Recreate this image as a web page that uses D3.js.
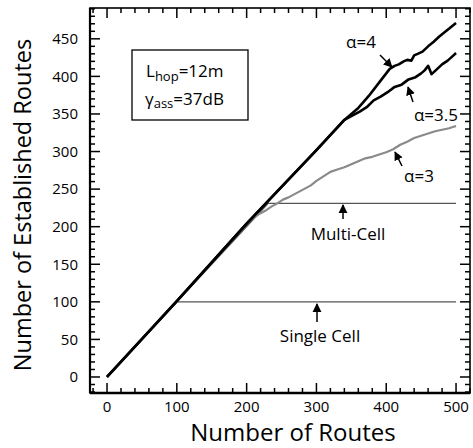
<!DOCTYPE html>
<html>
<head>
<meta charset="utf-8">
<script src="https://cdn.jsdelivr.net/npm/d3@7"></script>
<style>
  body { margin: 0; background: #fff; }
  svg { font-family: "Open Sans", "DejaVu Sans", sans-serif; }
  .lbl { font-size: 15px; fill: #000; }
</style>
</head>
<body>
<script>
// tick labels
const xTicks = [0, 100, 200, 300, 400, 500];
const yTicks = [0, 50, 100, 150, 200, 250, 300, 350, 400, 450];

// alpha = 4
const routesA4 = [0, 100, 200, 300, 340, 360, 375, 390, 400, 405, 412, 418, 425, 430, 436, 440, 445, 452, 460, 468, 476, 484, 492, 500];
const estA4    = [0, 101, 204, 302, 342, 358, 374, 392, 404, 410, 414, 416, 420, 422, 421, 428, 430, 433, 440, 446, 453, 459, 465, 471];

// alpha = 3.5
const routesA35 = [0, 100, 200, 300, 340, 350, 362, 372, 382, 392, 402, 412, 422, 432, 442, 450, 455, 460, 465, 472, 480, 488, 494, 500];
const estA35    = [0, 101, 204, 302, 342, 347, 353, 359, 368, 373, 379, 386, 389, 396, 399, 404, 408, 414, 403, 409, 416, 421, 426, 431];

// alpha = 3
const routesA3 = [0, 100, 195, 205, 212, 220, 228, 236, 244, 252, 260, 268, 276, 284, 292, 300, 310, 320, 330, 340, 350, 360, 370, 380, 390, 400, 410, 420, 430, 440, 450, 460, 470, 480, 490, 500];
const estA3    = [0, 101, 199, 208, 213, 218, 222, 227, 231, 236, 239, 243, 247, 251, 255, 261, 267, 273, 276, 279, 283, 287, 291, 293, 296, 299, 303, 309, 313, 318, 321, 324, 327, 329, 331, 334];

// capacity limits
const routesMulti = [0, 231, 500];
const estMulti    = [0, 231, 231];
const routesSingle = [0, 100, 500];
const estSingle    = [0, 100, 100];

const W = 473, H = 448;
const mLeft = 90, mRight = 470, mTop = 8, mBottom = 393;

const x = d3.scaleLinear().domain([-24.4, 520]).range([mLeft, mRight]);
const y = d3.scaleLinear().domain([-21.3, 491]).range([mBottom, mTop]);

const svg = d3.select("body").append("svg")
  .attr("width", W).attr("height", H);

svg.append("defs").append("clipPath").attr("id", "plotclip")
  .append("rect").attr("x", mLeft).attr("y", mTop)
  .attr("width", mRight - mLeft).attr("height", mBottom - mTop);

// frame
svg.append("rect")
  .attr("x", mLeft).attr("y", mTop)
  .attr("width", mRight - mLeft).attr("height", mBottom - mTop)
  .attr("fill", "none").attr("stroke", "#000").attr("stroke-width", 1.6);
svg.append("line").attr("x1", mLeft).attr("x2", mRight).attr("y1", mBottom).attr("y2", mBottom)
  .attr("stroke", "#000").attr("stroke-width", 2.6);
svg.append("line").attr("x1", mLeft).attr("x2", mLeft).attr("y1", mTop).attr("y2", mBottom)
  .attr("stroke", "#000").attr("stroke-width", 2.2);

// inward ticks on all four sides
const xAll = d3.range(-20, 521, 20);
const yAll = d3.range(-20, 491, 10);
const isMajorX = v => xTicks.indexOf(v) >= 0;
const isMajorY = v => yTicks.indexOf(v) >= 0;

const tickG = svg.append("g");
function tickSet(data, fx1, fy1, fx2, fy2) {
  tickG.append("g").selectAll("line").data(data).join("line")
    .attr("x1", fx1).attr("y1", fy1).attr("x2", fx2).attr("y2", fy2)
    .style("stroke", "#000").style("stroke-width", "1.5px");
}
tickSet(xAll, v => x(v), mBottom, v => x(v), v => mBottom - (isMajorX(v) ? 10 : 5));
tickSet(xAll, v => x(v), mTop, v => x(v), v => mTop + (isMajorX(v) ? 10 : 5));
tickSet(yAll, mLeft, v => y(v), v => mLeft + (isMajorY(v) ? 10 : 5), v => y(v));
tickSet(yAll, mRight, v => y(v), v => mRight - (isMajorY(v) ? 10 : 5), v => y(v));

// tick labels
svg.append("g").selectAll("text").data(xTicks).join("text")
  .attr("class", "lbl")
  .attr("x", d => x(d)).attr("y", mBottom + 19)
  .attr("text-anchor", "middle").text(d => d);
svg.append("g").selectAll("text").data(yTicks).join("text")
  .attr("class", "lbl")
  .attr("x", mLeft - 12).attr("y", d => y(d)).attr("dy", "0.35em")
  .attr("text-anchor", "end").text(d => d);

const line = d3.line().x(d => x(d[0])).y(d => y(d[1]));
const pairs = (a, b) => a.map((v, i) => [v, b[i]]);

const plot = svg.append("g").attr("clip-path", "url(#plotclip)");

const series = [
  { xs: routesSingle, ys: estSingle, color: "#555", width: 1.3 },
  { xs: routesMulti, ys: estMulti, color: "#555", width: 1.3 },
  { xs: routesA3, ys: estA3, color: "#8a8a8a", width: 2.2 },
  { xs: routesA35, ys: estA35, color: "#000", width: 2.6 },
  { xs: routesA4, ys: estA4, color: "#000", width: 2.6 }
];

plot.selectAll("path")
  .data(series)
  .join("path")
  .attr("d", d => line(pairs(d.xs, d.ys)))
  .attr("fill", "none")
  .attr("stroke", d => d.color)
  .attr("stroke-width", d => d.width)
  .attr("stroke-linejoin", "round");

// annotations
const annFont = 17;
function label(txt, px, py) {
  svg.append("text").attr("x", px).attr("y", py)
    .attr("text-anchor", "middle")
    .attr("font-size", annFont).text(txt);
}
svg.append("defs").append("marker")
  .attr("id", "arr").attr("viewBox", "0 0 10 10")
  .attr("refX", 9).attr("refY", 5)
  .attr("markerWidth", 6).attr("markerHeight", 7)
  .attr("orient", "auto")
  .append("path").attr("d", "M0,0 L10,5 L0,10 z").attr("fill", "#000");
function arrow(x1, y1, x2, y2) {
  svg.append("line").attr("x1", x1).attr("y1", y1).attr("x2", x2).attr("y2", y2)
    .attr("stroke", "#000").attr("stroke-width", 1.5)
    .attr("marker-end", "url(#arr)");
}

label("\u03b1=4", 361, 48);
arrow(380, 55, 392, 67);
label("\u03b1=3.5", 436, 121);
arrow(413, 102, 408, 87);
label("\u03b1=3", 419, 182);
arrow(402, 166, 395, 152);
label("Multi-Cell", 348, 240);
arrow(343, 219, 343, 205);
label("Single Cell", 320, 342);
arrow(317, 322, 317, 304);

// parameter box
svg.append("rect").attr("x", 132).attr("y", 50).attr("width", 116).attr("height", 70)
  .attr("fill", "none").attr("stroke", "#000").attr("stroke-width", 1.3);
const t1 = svg.append("text").attr("x", 146).attr("y", 77).attr("font-size", annFont);
t1.append("tspan").text("L");
t1.append("tspan").attr("font-size", 13).attr("dy", 4).text("hop");
t1.append("tspan").attr("dy", -4).text("=12m");
const t2 = svg.append("text").attr("x", 145).attr("y", 105).attr("font-size", annFont);
t2.append("tspan").text("\u03b3");
t2.append("tspan").attr("font-size", 13).attr("dy", 3).text("ass");
t2.append("tspan").attr("dy", -3).text("=37dB");

// axis titles
svg.append("text")
  .attr("x", 293).attr("y", 441)
  .attr("text-anchor", "middle")
  .attr("font-size", 24)
  .text("Number of Routes");

svg.append("text")
  .attr("transform", "translate(31,205) rotate(-90)")
  .attr("text-anchor", "middle")
  .attr("font-size", 23.5)
  .text("Number of Established Routes");
</script>
</body>
</html>
